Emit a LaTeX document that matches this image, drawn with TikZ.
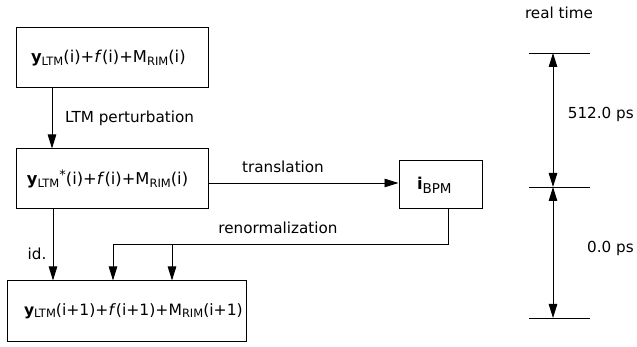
\documentclass[tikz,border=0pt]{standalone}
\usepackage{fontspec}
\setmainfont{DejaVu Sans}
\usetikzlibrary{arrows.meta}
\newcommand{\lbl}{\fontsize{15.2}{17}\selectfont}
\newcommand{\bx}{\fontsize{16.3}{19}\selectfont}
\newcommand{\bxs}{\fontsize{15.6}{18}\selectfont}
\newcommand{\sbs}[1]{\raisebox{-0.3ex}{\fontsize{11.5}{12}\selectfont #1}}
\begin{document}
\begin{tikzpicture}[x=1pt,y=-1pt,
  box/.style 2 args={draw, line width=1pt, minimum height=60pt, text width=#1, inner xsep=#2, align=left, font=\bx},
  conn/.style={line width=0.9pt},
  arr/.style={line width=0.9pt, -{Triangle[length=14pt,width=8.5pt]}},
  dbl/.style={line width=1pt, {Triangle[length=14pt,width=8.5pt]}-{Triangle[length=14pt,width=8.5pt]}},
  lab/.style={font=\lbl, inner sep=0pt}]
\useasboundingbox (0,0) rectangle (637,347);

\node[box={162pt}{15pt}] (b1) at (112,58) {\textbf{y}\sbs{LTM}(i)+\textit{f}(i)+M\sbs{RIM}(i)};
\node[box={170pt}{11pt}] (b2) at (112,179) {\textbf{y}\sbs{LTM}\raisebox{0.55ex}{\fontsize{13}{14}\selectfont *}(i)+\textit{f}(i)+M\sbs{RIM}(i)};
\node[box={205pt}{17pt}, font=\bxs] (b3) at (126.5,311) {\textbf{y}\sbs{LTM}(i+1)+\textit{f}(i+1)+M\sbs{RIM}(i+1)};
\node[box={47pt}{18pt}, minimum height=48pt] (bpm) at (440.5,185) {\textbf{i}\raisebox{-0.45ex}{\fontsize{13.5}{14}\selectfont BPM}};

\coordinate (c1) at (52,0);
\draw[arr] (b1.south -| c1) -- (b2.north -| c1);
\node[lab, anchor=west] (lp) at (65,118) {LTM perturbation};

\draw[arr] (b2.east |- 0,183) -- (bpm.west |- 0,183);
\node[lab] (tr) at (283,167) {translation};

\coordinate (c2) at (53,0);
\draw[arr] (b2.south -| c2) -- (b3.north -| c2);
\node[lab] (id) at (37,254) {id.};

\coordinate (r0) at (448,244);
\coordinate (r1) at (113,244);
\coordinate (r2) at (172,244);
\draw[conn] (bpm.south -| r0) -- (r0) -- (r1);
\draw[arr] (r1) -- (b3.north -| r1);
\draw[arr] (r2) -- (b3.north -| r2);
\node[lab] (rn) at (278,228) {renormalization};

% time scale
\node[lab] (rt) at (559,13) {real time};
\coordinate (t1) at (553,53);
\coordinate (t2) at (553,187);
\coordinate (t3) at (553,318);
\draw[conn] (529,53) -- (590,53);
\draw[conn] (529,187) -- (590,187);
\draw[conn] (529,318) -- (590,318);
\draw[dbl] (t1) -- (t2);
\draw[dbl] (t2) -- (t3);
\node[lab, anchor=east] (s1) at (634,114) {512.0 ps};
\node[lab, anchor=east] (s2) at (634,248) {0.0 ps};
\end{tikzpicture}
\end{document}
